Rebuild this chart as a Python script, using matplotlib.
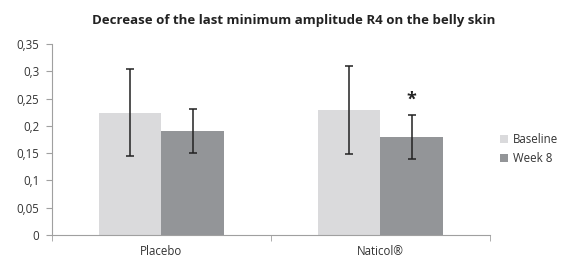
import matplotlib.pyplot as plt
import numpy as np

groups = ['Placebo', 'Naticol®']
baseline = [0.224, 0.229]
baseline_err = [0.080, 0.080]
week8 = [0.191, 0.179]
week8_err = [0.040, 0.040]
yticks = [0, 0.05, 0.1, 0.15, 0.2, 0.25, 0.3, 0.35]
ytick_labels = ['0', '0,05', '0,1', '0,15', '0,2', '0,25', '0,3', '0,35']

plt.rcParams['font.family'] = ['Open Sans', 'DejaVu Sans']

fig = plt.figure(figsize=(5.65, 2.6), dpi=100)
ax = fig.add_axes([0.092, 0.096, 0.775, 0.735])

x = np.arange(len(groups))
w = 0.285
err_style = dict(ecolor='#222222', elinewidth=1.1, capsize=3, capthick=1.1)
ax.bar(x - w / 2, baseline, w, yerr=baseline_err, color='#dadadc',
       label='Baseline', error_kw=err_style)
ax.bar(x + w / 2, week8, w, yerr=week8_err, color='#939598',
       label='Week 8', error_kw=err_style)

# significance marker over Naticol week 8
ax.text(x[1] + w / 2, week8[1] + week8_err[1] + 0.012, '*', ha='center',
        va='bottom', fontsize=13, fontweight='bold', color='#222222')

ax.set_xlim(-0.5, 1.5)
ax.set_ylim(0, 0.35)
ax.set_yticks(yticks)
ax.set_yticklabels(ytick_labels)
ax.set_xticks(x)
ax.set_xticklabels(groups)
ax.set_xticks([-0.5, 0.5, 1.5], minor=True)
ax.tick_params(axis='x', which='major', length=0, pad=7)
ax.tick_params(axis='x', which='minor', length=4, color='#a0a0a0')
ax.tick_params(axis='y', length=4, color='#a0a0a0', pad=5)
ax.tick_params(labelsize=8.3, labelcolor='#333333')

for s in ['top', 'right']:
    ax.spines[s].set_visible(False)
for s in ['left', 'bottom']:
    ax.spines[s].set_color('#a0a0a0')

ax.legend(loc='center left', bbox_to_anchor=(1.0, 0.45), frameon=False,
          fontsize=8.3, handlelength=0.7, handleheight=0.7, handletextpad=0.4,
          labelspacing=0.45, borderaxespad=0.5, labelcolor='#333333')

fig.suptitle('Decrease of the last minimum amplitude R4 on the belly skin',
             x=0.52, y=0.945, fontsize=9.5, fontweight='bold', color='#222222')

fig.savefig('out.png', dpi=100)
